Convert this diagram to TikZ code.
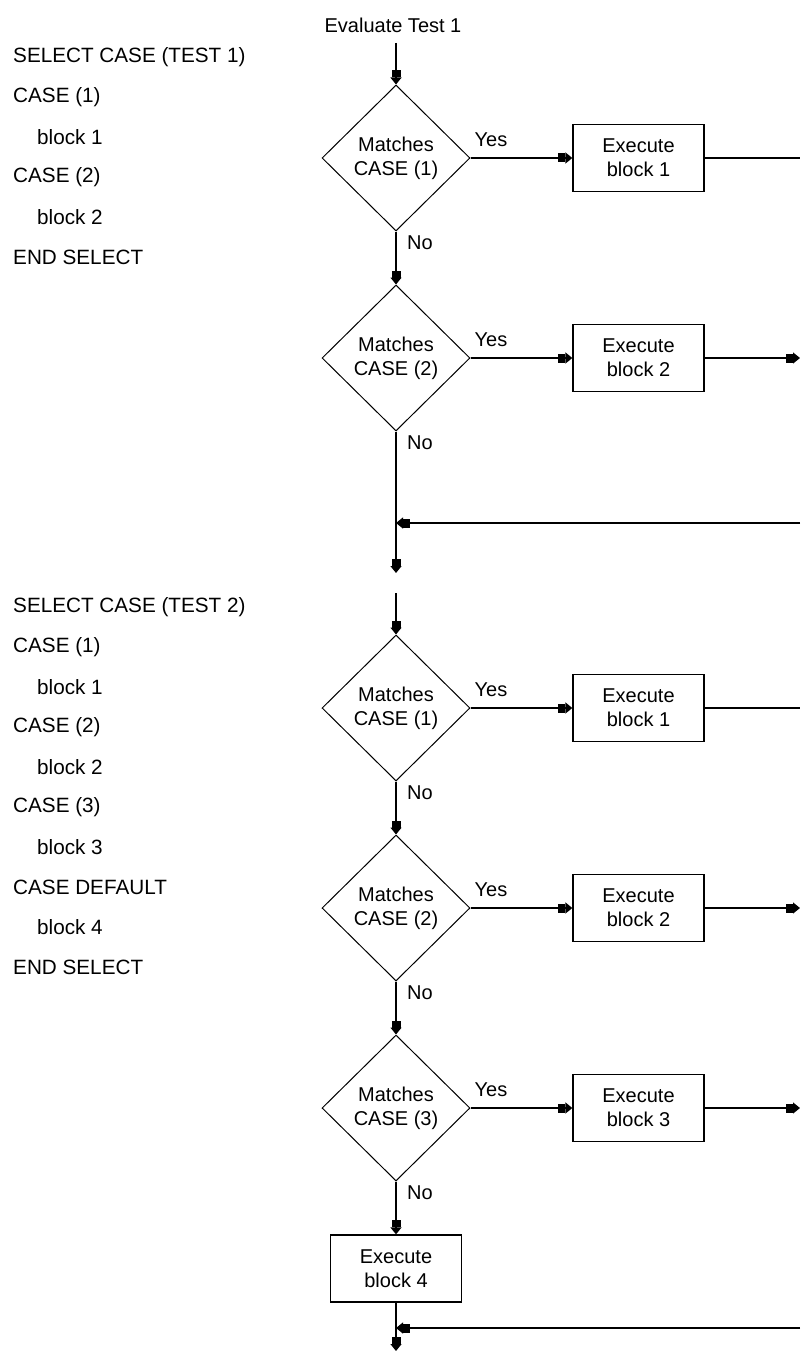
\documentclass[tikz,border=0pt]{standalone}
\usepackage{fontspec}
\setmainfont{Liberation Sans}
\usetikzlibrary{shapes.geometric,arrows.meta}
\begin{document}
\begin{tikzpicture}[x=1pt,y=-1pt,
  every node/.style={font=\fontsize{20}{24}\selectfont, inner sep=0pt},
  dec/.style={draw, diamond, minimum width=148pt, minimum height=146pt, align=center, line width=1pt},
  proc/.style={draw, rectangle, minimum width=131pt, minimum height=67pt, align=center, line width=1.3pt},
  code/.style={anchor=west, font=\fontsize{20.7}{24}\selectfont},
  flow/.style={line width=1.3pt},
  arr/.style={flow, -{Rectangle[length=7pt,width=9pt,sep=0pt]Triangle[length=7pt,width=11pt]}},
]
\useasboundingbox (0,0) rectangle (800,1351);
\fill[white] (0,0) rectangle (800,1351);

% ---- left code texts
\node[code] (s1a) at (13,57) {SELECT CASE (TEST 1)};
\node[code] (s1b) at (13,97) {CASE (1)};
\node[code] (s1c) at (37,137) {block 1};
\node[code] (s1d) at (13,177) {CASE (2)};
\node[code] (s1e) at (37,217) {block 2};
\node[code] (s1f) at (13,257) {END SELECT};

\node[code] (s2a) at (13,607) {SELECT CASE (TEST 2)};
\node[code] (s2b) at (13,647) {CASE (1)};
\node[code] (s2c) at (37,687) {block 1};
\node[code] (s2d) at (13,727) {CASE (2)};
\node[code] (s2e) at (37,767) {block 2};
\node[code] (s2f) at (13,807) {CASE (3)};
\node[code] (s2g) at (37,847) {block 3};
\node[code] (s2h) at (13,887) {CASE DEFAULT};
\node[code] (s2i) at (37,927) {block 4};
\node[code] (s2j) at (13,967) {END SELECT};

% ---- section 1
\node (title) at (393,25) {Evaluate Test 1};
\coordinate (start) at (396,43);
\node[dec] (d1) at (396,158) {Matches\\CASE (1)};
\node[proc] (b1) at (638.5,158) {Execute\\block 1};
\node[dec] (d2) at (396,358) {Matches\\CASE (2)};
\node[proc] (b2) at (638.5,358) {Execute\\block 2};
\node (y1) at (491,140) {Yes};
\node (n1) at (420,243) {No};
\node (y2) at (491,340) {Yes};
\node (n2) at (420,443) {No};
\coordinate (e1) at (800,158);
\coordinate (e2) at (800,358);
\coordinate (m1r) at (800,523);
\coordinate (m1) at (396,523);
\coordinate (end1) at (396,573);

\draw[arr] (start) -- (d1.north);
\draw[arr] (d1.east) -- (b1.west);
\draw[flow] (b1.east) -- (e1);
\draw[arr] (d1.south) -- (d2.north);
\draw[arr] (d2.east) -- (b2.west);
\draw[arr] (b2.east) -- (e2);
\draw[arr] (d2.south) -- (end1);
\draw[arr] (m1r) -- (m1);

% ---- section 2
\coordinate (start2) at (396,593);
\node[dec] (d3) at (396,708) {Matches\\CASE (1)};
\node[proc] (b3) at (638.5,708) {Execute\\block 1};
\node[dec] (d4) at (396,908) {Matches\\CASE (2)};
\node[proc] (b4) at (638.5,908) {Execute\\block 2};
\node[dec] (d5) at (396,1108) {Matches\\CASE (3)};
\node[proc] (b5) at (638.5,1108) {Execute\\block 3};
\node[proc] (b6) at (396,1268.5) {Execute\\block 4};
\node (y3) at (491,690) {Yes};
\node (n3) at (420,793) {No};
\node (y4) at (491,890) {Yes};
\node (n4) at (420,993) {No};
\node (y5) at (491,1090) {Yes};
\node (n5) at (420,1193) {No};
\coordinate (e3) at (800,708);
\coordinate (e4) at (800,908);
\coordinate (e5) at (800,1108);
\coordinate (m2r) at (800,1328);
\coordinate (m2) at (396,1328);
\coordinate (end2) at (396,1351);

\draw[arr] (start2) -- (d3.north);
\draw[arr] (d3.east) -- (b3.west);
\draw[flow] (b3.east) -- (e3);
\draw[arr] (d3.south) -- (d4.north);
\draw[arr] (d4.east) -- (b4.west);
\draw[arr] (b4.east) -- (e4);
\draw[arr] (d4.south) -- (d5.north);
\draw[arr] (d5.east) -- (b5.west);
\draw[arr] (b5.east) -- (e5);
\draw[arr] (d5.south) -- (b6.north);
\draw[arr] (b6.south) -- (end2);
\draw[arr] (m2r) -- (m2);
\end{tikzpicture}
\end{document}
